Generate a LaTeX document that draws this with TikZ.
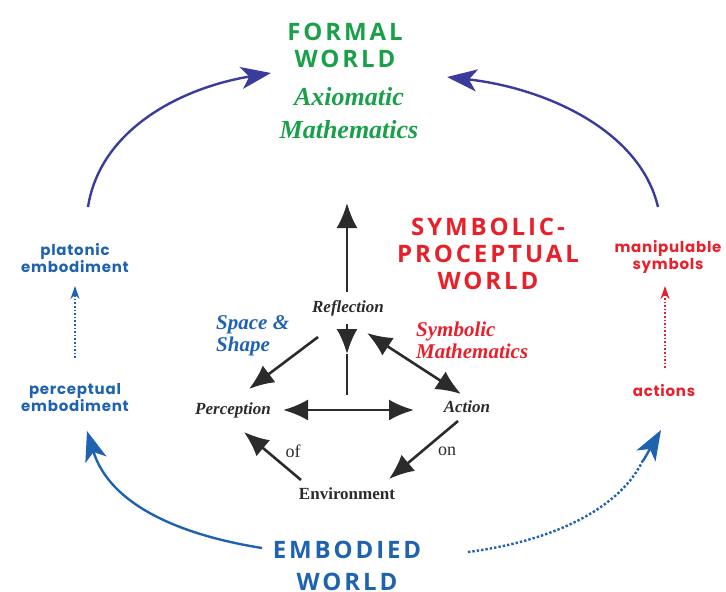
\documentclass[tikz,border=0pt]{standalone}
\usepackage{fontspec}
\setmainfont{Liberation Serif}
\newfontfamily\capsfont[LetterSpace=12]{Open Sans}
\newfontfamily\comicfont[LetterSpace=5]{Poppins}
\usetikzlibrary{arrows.meta}
\definecolor{fgreen}{HTML}{1BA04A}
\definecolor{sred}{HTML}{E8202A}
\definecolor{eblue}{HTML}{1F63B0}
\definecolor{arcblue}{HTML}{3B3B9E}
\definecolor{ink}{HTML}{2B2B2B}
\tikzset{
  world/.style={font=\capsfont\bfseries\fontsize{24}{27}\selectfont, align=center, inner sep=0pt},
  comic/.style={font=\comicfont\bfseries\fontsize{15}{17}\selectfont, align=center, inner sep=0pt},
  core/.style={font=\bfseries\itshape\fontsize{17}{19}\selectfont, text=ink, inner sep=2pt},
  mathlab/.style={font=\bfseries\itshape\fontsize{21}{22}\selectfont, align=left, inner sep=0pt},
  bigmath/.style={font=\bfseries\itshape\fontsize{26}{33}\selectfont, align=center, inner sep=0pt, text=fgreen},
  blk/.style={line width=2.6pt, draw=ink, -{Latex[length=25pt,width=21pt]}},
  blkdbl/.style={line width=2.6pt, draw=ink, {Latex[length=25pt,width=21pt]}-{Latex[length=25pt,width=21pt]}},
  arc/.style={line width=2.4pt, -{Stealth[length=30pt,width=22pt,inset=8pt]}},
  dotarr/.style={line width=1.6pt, dotted, -{Stealth[length=13pt,width=9pt]}}
}
\begin{document}
\begin{tikzpicture}[x=1pt,y=-1pt]
\useasboundingbox (0,0) rectangle (726,592);
% formal world
\node[world, text=fgreen] (formal) at (345,45) {FORMAL\\WORLD};
\node[bigmath] (axiom) at (349,113) {Axiomatic\\Mathematics};
% symbolic world
\node[world, text=sred] (symb) at (488,254) {SYMBOLIC-\\PROCEPTUAL\\WORLD};
% embodied world
\node[world, text=eblue, font=\capsfont\bfseries\fontsize{24}{32}\selectfont] (emb) at (347,566) {EMBODIED\\WORLD};
% side labels
\node[comic, text=eblue] (plat) at (75,258) {platonic\\embodiment};
\node[comic, text=eblue] (perc) at (75,398) {perceptual\\embodiment};
\node[comic, text=sred] (manip) at (668,257) {manipulable\\symbols};
\node[comic, text=sred] (act) at (664,391) {actions};
% core nodes
\node[core] (refl) at (348,308) {Reflection};
\node[core] (percp) at (233,410) {Perception};
\node[core] (action) at (467,407) {Action};
\node[core, font=\bfseries\fontsize{17}{19}\selectfont] (env) at (347,494) {Environment};
\node[core, font=\fontsize{18}{19}\selectfont] (of) at (293,451) {of};
\node[core, font=\fontsize{18}{19}\selectfont] (on) at (447,451) {on};
\node[mathlab, text=eblue, anchor=west] (space) at (216,336) {Space \&\\Shape};
\node[mathlab, text=sred, anchor=west] (symm) at (416,340) {Symbolic\\Mathematics};
% coordinates
\coordinate (top) at (347,203);
\coordinate (vbot) at (347,395);
\coordinate (vmid) at (347,354);
\coordinate (reflb) at (347,324);
% core arrows
\draw[blk] (347,292) coordinate (rt) -- (top);
\draw[line width=2.6pt, draw=ink] (vmid) -- (vbot);
\draw[blk] (reflb) -- (vmid);
\draw[blkdbl] (283,410) coordinate (pe) -- (414,410) coordinate (ae);
\draw[blk] (318,337) coordinate (rl) -- (249,389) coordinate (pl);
\draw[blkdbl] (367,333) coordinate (rr) -- (461,394) coordinate (ar);
\draw[blk] (301,480) coordinate (el) -- (244,432) coordinate (pb);
\draw[blk] (458,421) coordinate (ab) -- (389,479) coordinate (eb);
% big arcs
\draw[arc, draw=arcblue] (88,207) .. controls (100,130) and (180,88) .. (271,73);
\draw[arc, draw=arcblue] (658,207) .. controls (640,130) and (545,88) .. (447,77);
\draw[arc, draw=eblue] (262,548) .. controls (180,535) and (110,505) .. (87,431);
\draw[line width=2.4pt, draw=eblue, dotted] (468,552) .. controls (560,540) and (622,505) .. (643,460);
\draw[draw=eblue, -{Stealth[length=30pt,width=22pt,inset=8pt]}, line width=2.4pt] (643,461) -- (661,430);
% dotted side arrows
\draw[dotarr, draw=eblue] (75,358) coordinate (pd) -- (75,286);
\draw[dotarr, draw=sred] (665,368) coordinate (ad) -- (665,286);
\end{tikzpicture}
\end{document}
